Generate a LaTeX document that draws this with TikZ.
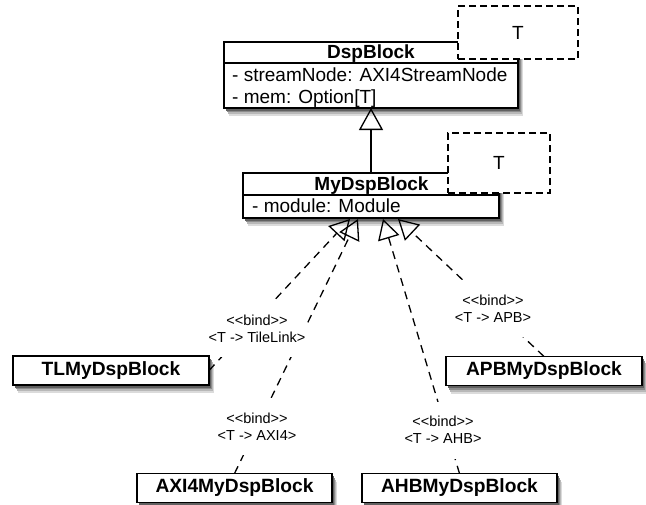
\documentclass[tikz,border=0pt]{standalone}
\usepackage{fontspec}
\setmainfont{Liberation Sans}
\usetikzlibrary{arrows.meta,calc}

\pgfdeclarelayer{shade}
\pgfdeclarelayer{front}
\pgfsetlayers{shade,main,front}

\tikzset{
  umlbox/.style={draw, line width=1.8pt, fill=white, inner sep=0pt, outer sep=0pt},
  leafbox/.style={umlbox, minimum height=29pt, font=\fontsize{19.2}{22}\selectfont\bfseries},
  classname/.style={anchor=base, inner sep=0pt, font=\fontsize{19}{22}\selectfont\bfseries},
  attr/.style={anchor=base west, inner sep=0pt, font=\fontsize{19}{22}\selectfont},
  tparam/.style={draw, dash pattern=on 7pt off 4pt, line width=1.3pt, fill=white,
    inner sep=0pt, outer sep=0pt, font=\fontsize{19}{22}\selectfont},
  bindlabel/.style={fill=white, inner xsep=1pt, inner ysep=0pt, minimum height=57pt,
    align=center, font=\fontsize{14.5}{17}\selectfont},
  realize/.style={line width=1.3pt, dash pattern=on 8pt off 6pt,
    -{Triangle[open, length=20pt, width=22pt, line width=1.3pt]}},
  inherit/.style={line width=1.3pt, -{Triangle[open, length=22pt, width=24pt, line width=1.3pt]}},
}
\newcommand{\bindtext}[1]{<\kern0pt<bind>\kern0pt>\\<T -> #1>}
% soft drop shadow under a named box
\newcommand{\castshadow}[1]{%
  \begin{pgfonlayer}{shade}
    \fill[black!14] ([shift={(4.5pt,-8pt)}]#1.north west) rectangle ([shift={(4.5pt,-8pt)}]#1.south east);
    \fill[black!28] ([shift={(3.7pt,-6pt)}]#1.north west) rectangle ([shift={(3.7pt,-6pt)}]#1.south east);
    \fill[black!45] ([shift={(2.8pt,-4.2pt)}]#1.north west) rectangle ([shift={(2.8pt,-4.2pt)}]#1.south east);
    \fill[black!62] ([shift={(1.8pt,-2.6pt)}]#1.north west) rectangle ([shift={(1.8pt,-2.6pt)}]#1.south east);
  \end{pgfonlayer}}

\begin{document}
\begin{tikzpicture}[x=1pt, y=-1pt]
  \useasboundingbox (0,0) rectangle (646,504);

  % generic base class
  \node[umlbox, minimum width=294pt, minimum height=66pt] (dsp) at (371,75) {};
  \castshadow{dsp}
  \node[classname] (dsp-name) at (371,58.5) {DspBlock};
  \draw[line width=1.8pt] ([yshift=-21pt]dsp.north west) -- ([yshift=-21pt]dsp.north east);
  \node[attr] (dsp-a1) at (232,81) {- streamNode: AXI4StreamNode};
  \node[attr] (dsp-a2) at (232,103.5) {- mem: Option[T]};
  \node[tparam, minimum width=120pt, minimum height=53pt] (dsp-t) at (518,32.5) {T};

  % derived generic class
  \node[umlbox, minimum width=256pt, minimum height=45pt] (my) at (371,195.5) {};
  \castshadow{my}
  \node[classname] (my-name) at (371.5,190) {MyDspBlock};
  \draw[line width=1.8pt] ([yshift=-22pt]my.north west) -- ([yshift=-22pt]my.north east);
  \node[attr] (my-a1) at (252,212.5) {- module: Module};
  \node[tparam, minimum width=102pt, minimum height=60pt] (my-t) at (499,163) {T};

  % generalisation
  \draw[inherit] (my.north) -- (dsp.south);

  % arrow tips on the lower edge of MyDspBlock
  \coordinate (tip-tl)  at ($(my.south)+(-21,1)$);
  \coordinate (tip-axi) at ($(my.south)+(-13,1)$);
  \coordinate (tip-ahb) at ($(my.south)+(12,1)$);
  \coordinate (tip-apb) at ($(my.south)+(27,1)$);

  % bound classes, kept above the binding labels
  \begin{pgfonlayer}{front}
    \node[leafbox, minimum width=196pt] (tl)  at (111,370.5) {TLMyDspBlock};
    \node[leafbox, minimum width=196pt] (apb) at (544,371)   {APBMyDspBlock};
    \node[leafbox, minimum width=195pt] (axi) at (234.5,488) {AXI4MyDspBlock};
    \node[leafbox, minimum width=195pt] (ahb) at (459.5,488) {AHBMyDspBlock};
  \end{pgfonlayer}
  \castshadow{tl}
  \castshadow{apb}
  \castshadow{axi}
  \castshadow{ahb}

  % template bindings
  \draw[realize] (tl.east)  -- (tip-tl);
  \draw[realize] (axi.north) -- (tip-axi);
  \draw[realize] (ahb.north) -- (tip-ahb);
  \draw[realize] (apb.north) -- (tip-apb);

  \node[bindlabel] (lbl-tl)  at (257,328.5) {\bindtext{TileLink}};
  \node[bindlabel] (lbl-axi) at (257,426.5) {\bindtext{AXI4}};
  \node[bindlabel] (lbl-ahb) at (443,430)   {\bindtext{AHB}};
  \node[bindlabel] (lbl-apb) at (493,308.5) {\bindtext{APB}};
\end{tikzpicture}
\end{document}
